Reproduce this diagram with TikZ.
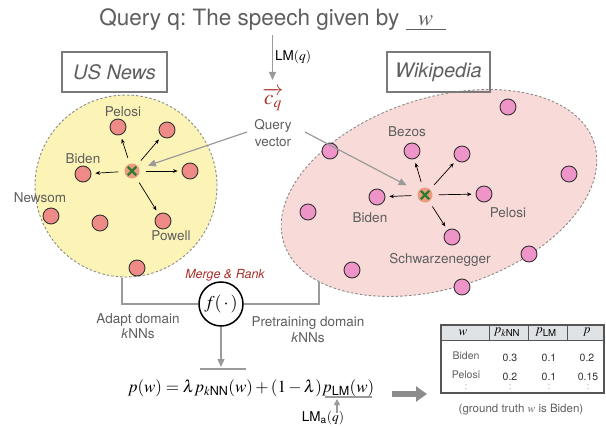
\documentclass[tikz,border=0pt]{standalone}
\usepackage{amsmath}
\usepackage{mathptmx}
\usepackage[no-math]{fontspec}
\setmainfont{TeX Gyre Heros}
\setsansfont{TeX Gyre Heros}
\usetikzlibrary{arrows.meta,shapes.geometric}
\definecolor{txt}{HTML}{5E5E5E}
\definecolor{boxc}{HTML}{7A7A7A}
\definecolor{gline}{HTML}{9A9A9A}
\definecolor{bdash}{HTML}{8A8A8A}
\definecolor{yfill}{HTML}{FCF4B6}
\definecolor{pfill}{HTML}{F8DAD8}
\definecolor{ydotc}{HTML}{EF8B87}
\definecolor{pdotc}{HTML}{EE94C8}
\definecolor{ctrc}{HTML}{E99C80}
\definecolor{xg}{HTML}{2E7A30}
\definecolor{mred}{HTML}{A8322D}
\definecolor{hdr}{HTML}{DFE3E6}
\definecolor{tline}{HTML}{555555}
\tikzset{
  lbl/.style={text=txt, font=\fontsize{13.5}{16}\selectfont, inner sep=0pt},
  dotbase/.style={circle, draw=black!80, line width=0.9pt, minimum size=16pt, inner sep=0pt},
  ydot/.style={dotbase, fill=ydotc},
  pdot/.style={dotbase, fill=pdotc},
  qctr/.style={circle, fill=ctrc, minimum size=15pt, inner sep=0pt,
    path picture={\draw[xg, line width=2.3pt]
      ([shift={(-4.2pt,-4.2pt)}]path picture bounding box.center) -- ([shift={(4.2pt,4.2pt)}]path picture bounding box.center)
      ([shift={(-4.2pt,4.2pt)}]path picture bounding box.center) -- ([shift={(4.2pt,-4.2pt)}]path picture bounding box.center);}},
  karrow/.style={-{Stealth[length=4.5pt,width=3.8pt]}, line width=0.7pt, black, shorten <=6pt, shorten >=4pt},
  garrow/.style={-{Triangle[length=8pt,width=7pt]}, line width=1.4pt, draw=gline},
  gconn/.style={line width=1.5pt, draw=gline},
  dbox/.style={draw=boxc, line width=1.4pt, minimum width=105pt, minimum height=40pt, inner sep=0pt,
    font=\fontsize{20}{22}\selectfont\itshape, text=txt},
  cell/.style={inner sep=0pt, font=\fontsize{10.5}{12}\selectfont, text=black!80},
  rowname/.style={inner sep=0pt, font=\fontsize{10.5}{12}\selectfont, text=txt},
  vdot/.style={inner sep=0pt, font=\fontsize{9}{10}\selectfont, text=black!40},
  hcell/.style={inner sep=0pt, font=\fontsize{13}{14}\selectfont}
}
\frenchspacing
\begin{document}
\begin{tikzpicture}[x=1pt,y=-1pt]
\useasboundingbox (0,0) rectangle (606,428);

% title
\node[text=txt, font=\fontsize{22.5}{26}\selectfont, inner sep=0pt] (title) at (272.5,20)
  {Query q: The speech given by \underline{\makebox[40pt]{$w$}}};

% domain regions
\node[circle, minimum size=182pt, fill=yfill, draw=bdash, line width=0.9pt,
  dash pattern=on 2.5pt off 2pt] (ycirc) at (126,186) {};
\node[ellipse, minimum width=326pt, minimum height=190pt, rotate=18, fill=pfill, draw=bdash,
  line width=0.9pt, dash pattern=on 2.5pt off 2pt] (pell) at (439,193) {};

% boxes
\node[dbox] (usn) at (114.5,72) {US News};
\node[dbox, minimum width=103pt] (wiki) at (438.5,72) {Wikipedia};

% query vector
\coordinate (lmT) at (272.5,35);
\node[inner sep=0pt, text=mred, font=\fontsize{21}{23}\selectfont] (cq) at (273,99) {$\overrightarrow{c_q}$};
\draw[garrow] (lmT) -- (272.5,80);
\node[inner sep=0pt, anchor=west, font=\fontsize{13.5}{16}\selectfont] (lmq) at (275,57) {LM$(q)$};
\node[lbl, align=center, font=\fontsize{13.5}{16.5}\selectfont] (qv) at (273,133) {Query\\vector};

% yellow dots
\node[qctr] (yc) at (132,171) {};
\node[ydot] (y1) at (118,127) {};
\node[ydot] (y2) at (167,130) {};
\node[ydot] (y3) at (190,171) {};
\node[ydot] (y4) at (83,174) {};
\node[ydot] (y5) at (51,216) {};
\node[ydot] (y6) at (100,223) {};
\node[ydot] (y7) at (163,221) {};
\node[ydot] (y8) at (137,268) {};
\node[lbl] (ly1) at (123,112) {Pelosi};
\node[lbl] (ly4) at (83,159) {Biden};
\node[lbl] (ly5) at (40,198) {Newsom};
\node[lbl] (ly7) at (171,236) {Powell};
\foreach \t in {y1,y2,y3,y4,y7} \draw[karrow] (yc) -- (\t);

% pink dots
\node[qctr] (pc) at (425,195) {};
\node[pdot] (p1) at (508,107) {};
\node[pdot] (p2) at (412,151) {};
\node[pdot] (p3) at (462,154) {};
\node[pdot] (p4) at (330,151) {};
\node[pdot] (p5) at (569,174) {};
\node[pdot] (p6) at (377,197) {};
\node[pdot] (p7) at (484,194) {};
\node[pdot] (p8) at (308,212) {};
\node[pdot] (p9) at (452,237) {};
\node[pdot] (p10) at (529,254) {};
\node[pdot] (p11) at (352,270) {};
\node[pdot] (p12) at (462,287) {};
\node[lbl] (lp2) at (407,132) {Bezos};
\node[lbl] (lp6) at (370,218) {Biden};
\node[lbl] (lp7) at (508,213) {Pelosi};
\node[lbl] (lp9) at (440,260) {Schwarzenegger};
\foreach \t in {p2,p3,p6,p7,p9} \draw[karrow] (pc) -- (\t);

% query vector arrows
\coordinate (qvL) at (247,132);
\coordinate (qvR) at (305,132);
\draw[garrow, line width=1.2pt, shorten >=9pt] (qvL) -- (yc);
\draw[garrow, line width=1.2pt, shorten >=13pt] (qvR) -- (pc);

% merge
\node[inner sep=0pt, text=mred, font=\fontsize{12.5}{14}\selectfont\itshape] (mr) at (225,275) {Merge \& Rank};
\node[circle, draw=black, line width=1.5pt, minimum size=44pt, inner sep=0pt,
  font=\fontsize{18}{20}\selectfont] (f) at (221,304) {$f(\,\cdot\,)$};
\coordinate (yA) at (122,278);
\coordinate (pA) at (319,282);
\draw[gconn] (yA) |- (f.west);
\draw[gconn] (pA) |- (f.east);
\node[lbl, align=center, font=\fontsize{13.5}{15}\selectfont] (ad) at (138,326) {Adapt domain\\\textit{k}NNs};
\node[lbl, align=center, font=\fontsize{13.5}{16}\selectfont] (pd) at (308,330) {Pretraining domain\\\textit{k}NNs};

% equation
\node[inner sep=0pt, anchor=base, font=\fontsize{17}{19}\selectfont] (eq) at (251,392)
  {$p(w) = \lambda p_{k\text{NN}}(w) + (1-\lambda)p_{\text{LM}}(w)$};
\coordinate (ovl) at (221,367);
\draw[garrow] (f.south) -- (ovl);
\draw[gconn, line width=1.2pt] (200,369) -- (246,369);
\draw[gconn, line width=1.2pt] (325,397) -- (372,397);
\node[inner sep=0pt, font=\fontsize{13.5}{16}\selectfont] (lma) at (323,418) {LM$_{\text{a}}(q)$};
\coordinate (lmaT) at (337,413);
\coordinate (unl) at (337,399);
\draw[-{Triangle[length=6pt,width=6pt]}, line width=1.2pt, draw=gline] (lmaT) -- (unl);

% big arrow
\coordinate (ba) at (392,394);
\coordinate (bb) at (427,394);
\draw[line width=5.5pt, draw=black!45, -{Triangle[length=11pt,width=15pt]}] (ba) -- (bb);

% table
\fill[hdr] (441,325) rectangle (604,340);
\draw[tline, line width=1.3pt] (441,325) rectangle (604,393);
\draw[tline, line width=1pt] (441,340) -- (604,340);
\foreach \xx in {489,528,567} \draw[tline, line width=1pt] (\xx,325) -- (\xx,340);
\node[hcell] (h1) at (463,332.5) {$w$};
\node[hcell] (h2) at (507,332.5) {$p_{k\text{NN}}$};
\node[hcell] (h3) at (546,332.5) {$p_{\text{LM}}$};
\node[hcell] (h4) at (587,332.5) {$p$};
\node[rowname] (r1) at (466,356) {Biden};
\node[cell] (r1a) at (510,358) {0.3};
\node[cell] (r1b) at (549,358) {0.1};
\node[cell] (r1c) at (587,358) {0.2};
\node[rowname] (r2) at (466,375) {Pelosi};
\node[cell] (r2a) at (510,377) {0.2};
\node[cell] (r2b) at (549,377) {0.1};
\node[cell] (r2c) at (588,377) {0.15};
\node[vdot] (d1) at (466,387) {:};
\node[vdot] (d2) at (510,387) {:};
\node[vdot] (d3) at (549,387) {:};
\node[vdot] (d4) at (588,387) {:};
\node[inner sep=0pt, text=txt, font=\fontsize{11.5}{13}\selectfont] (cap) at (521,410) {(ground truth $w$ is Biden)};
\end{tikzpicture}
\end{document}
